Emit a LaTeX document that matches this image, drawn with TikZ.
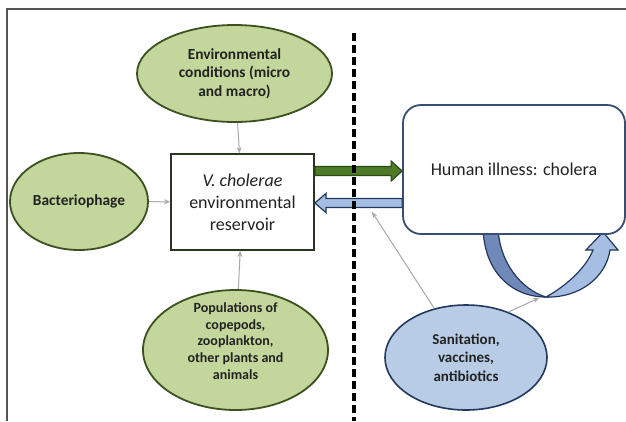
\documentclass[tikz,border=0pt]{standalone}
\usepackage{fontspec}
\setmainfont{Carlito}
\usetikzlibrary{arrows.meta,calc,shapes.geometric}
\definecolor{gfill}{HTML}{C3D69B}
\definecolor{gline}{HTML}{3B5220}
\definecolor{bfill}{HTML}{B8CCE6}
\definecolor{bline}{HTML}{22385E}
\definecolor{boxline}{HTML}{3A4E72}
\definecolor{resline}{HTML}{2A3420}
\definecolor{dkblue}{HTML}{7089B8}
\definecolor{ltblue}{HTML}{A6BEE2}
\definecolor{dgreen}{HTML}{4F7B28}
\definecolor{dgline}{HTML}{2C4A18}
\definecolor{thin}{HTML}{A8A8A8}
\definecolor{txt}{HTML}{222222}
\definecolor{framec}{HTML}{555555}
\begin{document}
\begin{tikzpicture}[x=1pt,y=-1pt,
  gell/.style={ellipse, draw=gline, fill=gfill, line width=1.8pt, inner sep=0pt, align=center, text=txt, font=\bfseries\fontsize{15.4}{18.3}\selectfont},
  bell/.style={ellipse, draw=bline, fill=bfill, line width=1.6pt, inner sep=0pt, align=center, text=txt, font=\bfseries\fontsize{15}{18.5}\selectfont},
  resbox/.style={rectangle, draw=resline, fill=white, line width=1.8pt, align=center, text=txt, font=\fontsize{18}{22}\selectfont},
  illbox/.style={rectangle, rounded corners=18pt, draw=boxline, fill=white, line width=1.8pt, align=center, text=txt, font=\fontsize{18}{22}\selectfont},
  thinarrow/.style={draw=thin, line width=1pt, -{Stealth[length=6pt,width=5pt]}},
  fatgreen/.style={fill=dgreen, draw=dgline, line width=1.2pt},
  fatblue/.style={fill=ltblue, draw=bline, line width=1.2pt},
  divider/.style={draw=black, line width=3.5pt, dash pattern=on 8pt off 4pt},
  loopdark/.style={fill=dkblue, draw=bline, line width=1.2pt},
  looplight/.style={fill=ltblue, draw=bline, line width=1.2pt}
]
\useasboundingbox (0,0) rectangle (626,421);
\fill[white] (0,0) rectangle (626,421);
\draw[framec, line width=1.3pt] (7,421) -- (7,9) -- (626,9);

% loop arrow under the illness box
\filldraw[loopdark] (483,225) .. controls (483,272) and (512,297) .. (546,297) .. controls (522,290) and (498,262) .. (498,225) -- cycle;
\filldraw[looplight] (546,297) .. controls (580,298) and (606,277) .. (610,250) -- (618,250) -- (603,232) -- (586,250) -- (593,250) .. controls (586,268) and (566,286) .. (546,297) -- cycle;
\coordinate (loopbot) at (539,298);

% nodes
\node[gell, minimum width=195pt, minimum height=97pt] (env) at (234.5,73.5) {Environmental\\conditions (micro\\and macro)};
\node[gell, minimum width=138pt, minimum height=97pt] (bact) at (79,201.5) {Bacteriophage};
\node[gell, minimum width=185pt, minimum height=120pt] (pop) at (235.5,350) {};
\node[align=center, text=txt, font=\bfseries\fontsize{14}{16.7}\selectfont] (poptext) at (235.5,341) {Populations of\\copepods,\\zooplankton,\\other plants and\\animals};
\node[resbox, minimum width=143pt, minimum height=96pt] (res) at (242.5,202) {\textit{V. cholerae}\\environmental\\reservoir};
\node[illbox, minimum width=222pt, minimum height=129pt] (ill) at (514,169.5) {Human illness: cholera};
\node[bell, minimum width=162pt, minimum height=105pt] (san) at (466,357.5) {Sanitation,\\vaccines,\\antibiotics};

% thin arrows
\draw[thinarrow] (env) -- (res);
\draw[thinarrow] (bact) -- (res);
\draw[thinarrow] (pop) -- (res);
\coordinate (bluetarget) at (372,212);
\draw[thinarrow] (san) -- (bluetarget);
\draw[thinarrow] (san.47) -- (loopbot);

% fat arrows
\coordinate (gy) at (0,171);
\coordinate (by) at (0,203);
\coordinate (g1) at (res.east |- gy);
\coordinate (g2) at (ill.west |- gy);
\coordinate (b1) at (ill.west |- by);
\coordinate (b2) at (res.east |- by);
\filldraw[fatgreen] ($(g1)+(0,-4.5)$) -- ($(g2)+(-11,-4.5)$) -- ($(g2)+(-11,-10)$) -- (g2) -- ($(g2)+(-11,10)$) -- ($(g2)+(-11,4.5)$) -- ($(g1)+(0,4.5)$) -- cycle;
\filldraw[fatblue] ($(b1)+(0,-4.5)$) -- ($(b2)+(11,-4.5)$) -- ($(b2)+(11,-9.5)$) -- (b2) -- ($(b2)+(11,9.5)$) -- ($(b2)+(11,4.5)$) -- ($(b1)+(0,4.5)$) -- cycle;

% dashed divider
\coordinate (dtop) at (354,33);
\coordinate (dbot) at (354,421);
\draw[divider] (dtop) -- (dbot);
\end{tikzpicture}
\end{document}
